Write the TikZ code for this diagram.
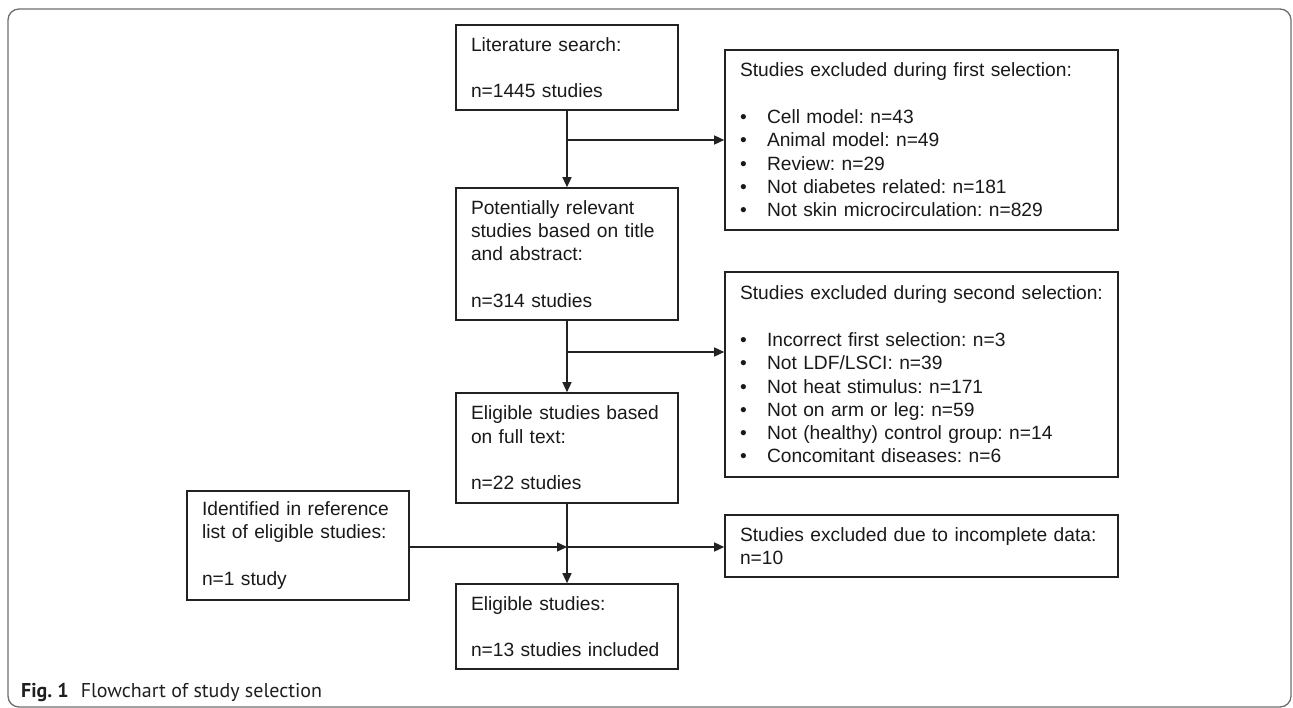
\documentclass[tikz,border=0pt]{standalone}
\usepackage{fontspec}
\setmainfont{Liberation Sans}
\newfontfamily\capfont{PT Sans}
\usetikzlibrary{arrows.meta}
\definecolor{boxline}{HTML}{222222}
\definecolor{framegray}{HTML}{6E6E6E}
\frenchspacing
\begin{document}
\begin{tikzpicture}[x=1pt,y=-1pt,
  every node/.style={font=\fontsize{19.2}{23.3}\selectfont, text=black!90},
  flowbox/.style={draw=boxline, line width=1.6pt, rectangle, inner xsep=15pt, inner ysep=0pt,
     align=left, anchor=center},
  narrowbox/.style={flowbox, text width=192pt, minimum height=#1},
  widebox/.style={flowbox, text width=363pt, minimum height=#1},
  link/.style={draw=boxline, line width=1.4pt},
  arrowlink/.style={link, -{Triangle[length=10pt,width=9pt]}}]
\useasboundingbox (0,0) rectangle (1293,708);
\draw[framegray, line width=1.3pt, rounded corners=11pt] (8,9) rectangle (1291,707);

\newcommand{\bul}[1]{\makebox[27pt][l]{\textbullet}#1}

\node[narrowbox=85pt] (lit) at (567,67.5) {Literature search:\\[23.3pt]n=1445 studies};
\node[narrowbox=132pt] (pot) at (567,254) {Potentially relevant\\studies based on title\\and abstract:\\[23.3pt]n=314 studies};
\node[narrowbox=110pt] (full) at (567,448) {Eligible studies based\\on full text:\\[23.3pt]n=22 studies};
\node[narrowbox=85pt] (elig) at (567,626.5) {Eligible studies:\\[23.3pt]n=13 studies included};
\node[narrowbox=109pt] (ref) at (298,545.5) {Identified in reference\\list of eligible studies:\\[23.3pt]n=1 study};

\node[widebox=180pt] (ex1) at (921.5,140) {Studies excluded during first selection:\\[23.3pt]\bul{Cell model: n=43}\\\bul{Animal model: n=49}\\\bul{Review: n=29}\\\bul{Not diabetes related: n=181}\\\bul{Not skin microcirculation: n=829}};
\node[widebox=205pt] (ex2) at (921.5,374.5) {Studies excluded during second selection:\\[23.3pt]\bul{Incorrect first selection: n=3}\\\bul{Not LDF/LSCI: n=39}\\\bul{Not heat stimulus: n=171}\\\bul{Not on arm or leg: n=59}\\\bul{Not (healthy) control group: n=14}\\\bul{Concomitant diseases: n=6}};
\node[widebox=62pt] (ex3) at (921.5,546) {Studies excluded due to incomplete data:\\n=10};

\coordinate (b1) at (lit.south |- 0,140);
\coordinate (b2) at (lit.south |- 0,352);
\coordinate (j3) at (lit.south |- 0,547);
\coordinate (e2) at (ex2.west |- 0,352);

\draw[arrowlink] (lit.south) -- (pot.north);
\draw[arrowlink] (b1) -- (ex1.west);
\draw[arrowlink] (pot.south) -- (full.north);
\draw[arrowlink] (b2) -- (e2);
\draw[arrowlink] (full.south) -- (elig.north);
\draw[arrowlink] (ref.east |- j3) -- (j3);
\draw[arrowlink] (j3) -- (ex3.west |- j3);

\node[anchor=base west, font=\capfont\fontsize{20}{24}\selectfont, text=black!88, inner sep=0pt] (cap) at (21,697) {\textbf{Fig. 1}\hspace{0.6em}Flowchart of study selection};
\end{tikzpicture}
\end{document}
